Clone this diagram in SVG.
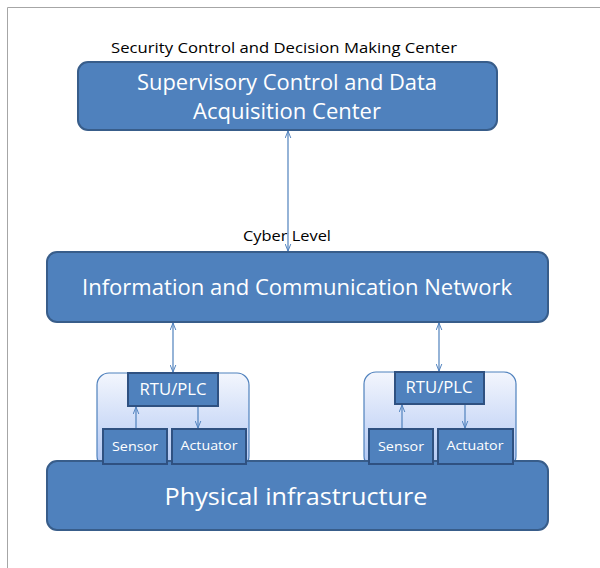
<svg xmlns="http://www.w3.org/2000/svg" width="600" height="568" viewBox="0 0 600 568">
  <defs>
    <style>
      .box { fill: #4F81BD; stroke: #385D8A; stroke-width: 2; }
      .small { fill: #4F81BD; stroke: #2F5181; stroke-width: 2; }
      .cont { fill: url(#lg); stroke: #4F81BD; stroke-width: 1.2; }
      .wt { fill: #FFFFFF; font-family: "Open Sans", "Noto Sans", sans-serif; text-anchor: middle; }
      .bk { fill: #000000; font-family: "Open Sans", "Noto Sans", sans-serif; text-anchor: middle; }
      .conn { stroke: #4F81BD; stroke-width: 1.2; fill: none; }
    </style>
    <linearGradient id="lg" x1="0" y1="0" x2="0" y2="1">
      <stop offset="0" stop-color="#F3F6FD"/>
      <stop offset="1" stop-color="#AFC6F3"/>
    </linearGradient>
    <marker id="ah" viewBox="0 0 10 10" refX="10" refY="5" markerWidth="7" markerHeight="7" orient="auto-start-reverse" markerUnits="userSpaceOnUse">
      <path d="M0,1 L10,5 L0,9" fill="none" stroke="#4F81BD" stroke-width="1.4"/>
    </marker>
  </defs>
  <rect x="0" y="0" width="600" height="568" fill="#FFFFFF"/>
  <path d="M7.5,568 V7.5 H600" fill="none" stroke="#A6A6A6" stroke-width="1"/>

  <g id="title">
    <text class="bk" x="284" y="53" font-size="15" textLength="346" lengthAdjust="spacingAndGlyphs">Security Control and Decision Making Center</text>
  </g>

  <g id="scada">
    <rect class="box" x="78" y="62" width="419" height="68" rx="10"/>
    <text class="wt" x="287" y="90" font-size="21" textLength="300" lengthAdjust="spacingAndGlyphs">Supervisory Control and Data</text>
    <text class="wt" x="287" y="119" font-size="21" textLength="188" lengthAdjust="spacingAndGlyphs">Acquisition Center</text>
  </g>

  <g id="cyber-label">
    <text class="bk" x="287" y="241" font-size="15" textLength="88" lengthAdjust="spacingAndGlyphs">Cyber Level</text>
  </g>

  <g id="icn">
    <rect class="box" x="47" y="252" width="501" height="70" rx="10"/>
    <text class="wt" x="297" y="295" font-size="21" textLength="430" lengthAdjust="spacingAndGlyphs">Information and Communication Network</text>
  </g>

  <g id="field-left-container">
    <rect class="cont" x="97" y="373" width="152" height="95" rx="12"/>
  </g>
  <g id="field-right-container">
    <rect class="cont" x="364" y="372" width="152" height="96" rx="12"/>
  </g>

  <g id="physical">
    <rect class="box" x="47" y="461" width="501" height="69" rx="10"/>
    <text class="wt" x="296" y="505" font-size="24" textLength="263" lengthAdjust="spacingAndGlyphs">Physical infrastructure</text>
  </g>

  <g id="rtu-left">
    <rect class="small" x="128" y="373" width="90" height="33"/>
    <text class="wt" x="173" y="395" font-size="16" textLength="67" lengthAdjust="spacingAndGlyphs">RTU/PLC</text>
  </g>
  <g id="sensor-left">
    <rect class="small" x="103" y="429" width="64" height="35"/>
    <text class="wt" x="135" y="451" font-size="13" textLength="46" lengthAdjust="spacingAndGlyphs">Sensor</text>
  </g>
  <g id="actuator-left">
    <rect class="small" x="172" y="429" width="74" height="35"/>
    <text class="wt" x="209" y="450" font-size="12" textLength="57" lengthAdjust="spacingAndGlyphs">Actuator</text>
  </g>

  <g id="rtu-right">
    <rect class="small" x="395" y="372" width="89" height="32"/>
    <text class="wt" x="439" y="393" font-size="16" textLength="67" lengthAdjust="spacingAndGlyphs">RTU/PLC</text>
  </g>
  <g id="sensor-right">
    <rect class="small" x="369" y="429" width="64" height="35"/>
    <text class="wt" x="401" y="451" font-size="13" textLength="46" lengthAdjust="spacingAndGlyphs">Sensor</text>
  </g>
  <g id="actuator-right">
    <rect class="small" x="438" y="429" width="75" height="35"/>
    <text class="wt" x="475" y="450" font-size="12" textLength="57" lengthAdjust="spacingAndGlyphs">Actuator</text>
  </g>

  <g id="connectors">
    <line class="conn" x1="288" y1="131" x2="288" y2="251" marker-start="url(#ah)" marker-end="url(#ah)"/>
    <line class="conn" x1="173" y1="323" x2="173" y2="372" marker-start="url(#ah)" marker-end="url(#ah)"/>
    <line class="conn" x1="439" y1="323" x2="439" y2="371" marker-start="url(#ah)" marker-end="url(#ah)"/>
    <line class="conn" x1="136" y1="428" x2="136" y2="407" marker-end="url(#ah)"/>
    <line class="conn" x1="198" y1="407" x2="198" y2="428" marker-end="url(#ah)"/>
    <line class="conn" x1="402" y1="428" x2="402" y2="405" marker-end="url(#ah)"/>
    <line class="conn" x1="465" y1="405" x2="465" y2="428" marker-end="url(#ah)"/>
  </g>
</svg>
